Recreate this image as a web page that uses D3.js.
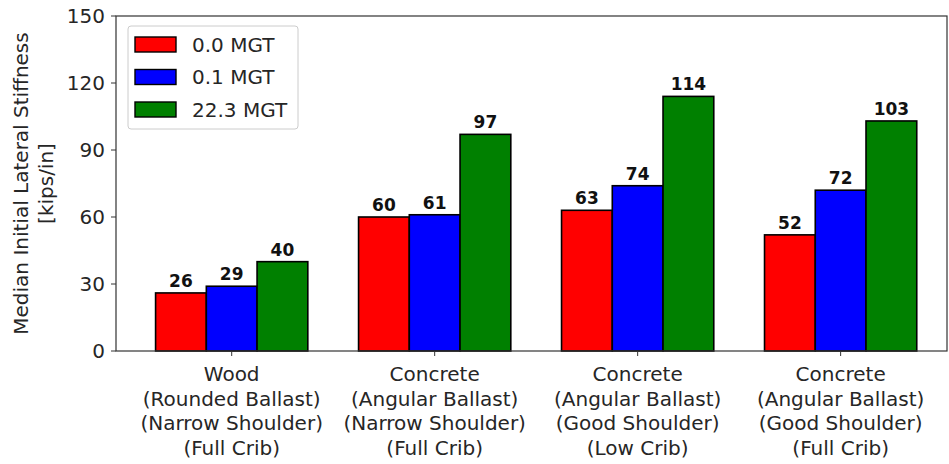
<!DOCTYPE html>
<html>
<head>
<meta charset="utf-8">
<script src="https://cdn.jsdelivr.net/npm/d3@7"></script>
<style>
body { margin: 0; background: #fff; }
text { font-family: "DejaVu Sans", sans-serif; fill: #262626; }
</style>
</head>
<body>
<svg id="chart" width="949" height="464"></svg>
<script>
// data
const categories = [
  ["Wood", "(Rounded Ballast)", "(Narrow Shoulder)", "(Full Crib)"],
  ["Concrete", "(Angular Ballast)", "(Narrow Shoulder)", "(Full Crib)"],
  ["Concrete", "(Angular Ballast)", "(Good Shoulder)", "(Low Crib)"],
  ["Concrete", "(Angular Ballast)", "(Good Shoulder)", "(Full Crib)"]
];
const seriesNames = ["0.0 MGT", "0.1 MGT", "22.3 MGT"];
const seriesColors = ["#ff0000", "#0000ff", "#008000"];
const mgt00 = [26, 60, 63, 52];
const mgt01 = [29, 61, 74, 72];
const mgt223 = [40, 97, 114, 103];
const yTicks = [0, 30, 60, 90, 120, 150];

const series = [mgt00, mgt01, mgt223];
const barW = 0.25;

const pLeft = 116, pRight = 947, pTop = 16, pBottom = 351;
const svg = d3.select("#chart");

const x = d3.scaleLinear().domain([-0.57, 3.524]).range([pLeft, pRight]);
const y = d3.scaleLinear().domain([0, 150]).range([pBottom, pTop]);

// bars
series.forEach((vals, s) => {
  const g = svg.append("g");
  g.selectAll("rect")
    .data(vals)
    .join("rect")
    .attr("x", (d, i) => x(i + (s - 1) * barW - barW / 2))
    .attr("y", d => y(d))
    .attr("width", x(barW) - x(0))
    .attr("height", d => y(0) - y(d))
    .attr("fill", seriesColors[s])
    .attr("stroke", "#000")
    .attr("stroke-width", 1.6);
  g.selectAll("text")
    .data(vals)
    .join("text")
    .attr("x", (d, i) => x(i + (s - 1) * barW))
    .attr("y", d => y(d) - 6)
    .attr("text-anchor", "middle")
    .attr("font-size", 17)
    .attr("font-weight", "bold")
    .style("fill", "#111")
    .text(d => d);
});

// frame
svg.append("rect")
  .attr("x", pLeft).attr("y", pTop)
  .attr("width", pRight - pLeft).attr("height", pBottom - pTop)
  .attr("fill", "none").attr("stroke", "#333").attr("stroke-width", 1.2);

// y axis
const yAxis = svg.append("g");
yTicks.forEach(t => {
  yAxis.append("line")
    .attr("x1", pLeft - 5).attr("x2", pLeft)
    .attr("y1", y(t)).attr("y2", y(t))
    .attr("stroke", "#333");
  yAxis.append("text")
    .attr("x", pLeft - 11).attr("y", y(t))
    .attr("dy", "0.36em")
    .attr("text-anchor", "end")
    .attr("font-size", 20)
    .text(t);
});

// x axis
const xAxis = svg.append("g");
categories.forEach((lines, i) => {
  xAxis.append("line")
    .attr("x1", x(i)).attr("x2", x(i))
    .attr("y1", pBottom).attr("y2", pBottom + 5)
    .attr("stroke", "#333");
  const t = xAxis.append("text")
    .attr("x", x(i)).attr("y", 381)
    .attr("text-anchor", "middle")
    .attr("font-size", 20);
  lines.forEach((ln, j) => {
    t.append("tspan").attr("x", x(i)).attr("dy", j === 0 ? 0 : 24.7).text(ln);
  });
});

// y label
svg.append("text")
  .attr("transform", `translate(28,${(pTop + pBottom) / 2}) rotate(-90)`)
  .attr("text-anchor", "middle")
  .attr("font-size", 20)
  .selectAll("tspan")
  .data(["Median Initial Lateral Stiffness", "[kips/in]"])
  .join("tspan")
  .attr("x", 0)
  .attr("dy", (d, i) => i === 0 ? 0 : 25)
  .text(d => d);

// legend
const legend = svg.append("g");
legend.append("rect")
  .attr("x", 128).attr("y", 26)
  .attr("width", 170).attr("height", 103)
  .attr("rx", 3)
  .attr("fill", "#fff").attr("stroke", "#ccc");
seriesNames.forEach((n, i) => {
  const yy = 37 + i * 32.5;
  legend.append("rect")
    .attr("x", 135).attr("y", yy)
    .attr("width", 41).attr("height", 15)
    .attr("fill", seriesColors[i]).attr("stroke", "#000").attr("stroke-width", 1.4);
  legend.append("text")
    .attr("x", 192).attr("y", yy + 7.5)
    .attr("dy", "0.36em")
    .attr("font-size", 20)
    .text(n);
});
</script>
</body>
</html>
